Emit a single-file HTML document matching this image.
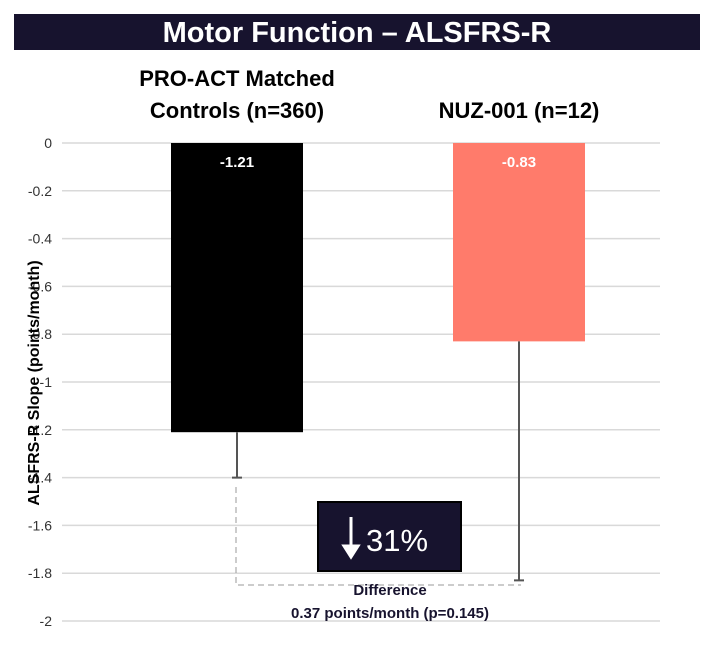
<!DOCTYPE html>
<html><head><meta charset="utf-8"><style>
body{margin:0;background:#fff;width:714px;height:642px;overflow:hidden;font-family:"Liberation Sans",sans-serif}
</style></head><body>
<svg width="714" height="642" xmlns="http://www.w3.org/2000/svg">
<rect x="14" y="14" width="686" height="36" fill="#17132e"/>
<text x="357" y="42" text-anchor="middle" fill="#fff" font-size="29" font-weight="bold">Motor Function – ALSFRS-R</text>
<g id="grid"></g><g id="yt"></g><g id="bars"></g>
<text transform="translate(39,383) rotate(-90)" text-anchor="middle" font-size="16" font-weight="bold" fill="#000">ALSFRS-R Slope (points/month)</text>
<path d="M236 487 V585 H521" fill="none" stroke="#999" stroke-dasharray="6,4" stroke-width="1"/>
<rect x="318" y="502" width="143" height="69" fill="#17132e" stroke="#000" stroke-width="2"/>
<path d="M351 517 V547 M344 546 L351 557 L358 546 Z" stroke="#fff" stroke-width="3" fill="#fff"/>
<text x="366" y="551" fill="#fff" font-size="31">31%</text>
<text x="390" y="595" text-anchor="middle" fill="#17132e" font-size="15" font-weight="bold">Difference</text>
<text x="390" y="618" text-anchor="middle" fill="#17132e" font-size="15" font-weight="bold">0.37 points/month (p=0.145)</text>
</svg>
<script>
const categories=["PRO-ACT Matched|Controls (n=360)","NUZ-001 (n=12)"];
const values=[-1.21,-0.83];
const errLow=[-1.40,-1.83];
const colors=["#000000","#ff7b6b"];
const ticks=[0,-0.2,-0.4,-0.6,-0.8,-1,-1.2,-1.4,-1.6,-1.8,-2];
const NS="http://www.w3.org/2000/svg";
const y=v=>143+(-v)/2*478;
const x=i=>237+i*282;
function mk(t,a,p){const e=document.createElementNS(NS,t);for(const k in a)e.setAttribute(k,a[k]);p.appendChild(e);return e;}
const g=document.getElementById('grid'),yt=document.getElementById('yt'),b=document.getElementById('bars');
ticks.forEach(t=>{const l=mk('line',{x1:62,x2:660,y1:y(t),y2:y(t),stroke:'#d9d9d9','stroke-width':1.5},g);


const tx=mk('text',{x:52,y:y(t)+5,'text-anchor':'end','font-size':14,fill:'#333'},yt);tx.textContent=String(t);

});
values.forEach((v,i)=>{const cx=x(i);
const r=mk('rect',{x:cx-66,y:y(0),width:132,height:y(v)-y(0),fill:colors[i]},b);


const e=mk('path',{d:`M${cx} ${y(v)} V${y(errLow[i])} M${cx-5} ${y(errLow[i])} H${cx+5}`,stroke:'#555','stroke-width':2,fill:'none'},b);


const t=mk('text',{x:cx,y:y(0)+24,'text-anchor':'middle',fill:'#fff','font-size':15,'font-weight':'bold'},b);t.textContent=v.toFixed(2);


const lines=categories[i].split('|');
lines.forEach((s,j)=>{const c=mk('text',{x:cx,y:118-(lines.length-1-j)*32,'text-anchor':'middle','font-size':22,'font-weight':'bold',fill:'#000'},b);c.textContent=s;

});});
</script>
</body></html>
